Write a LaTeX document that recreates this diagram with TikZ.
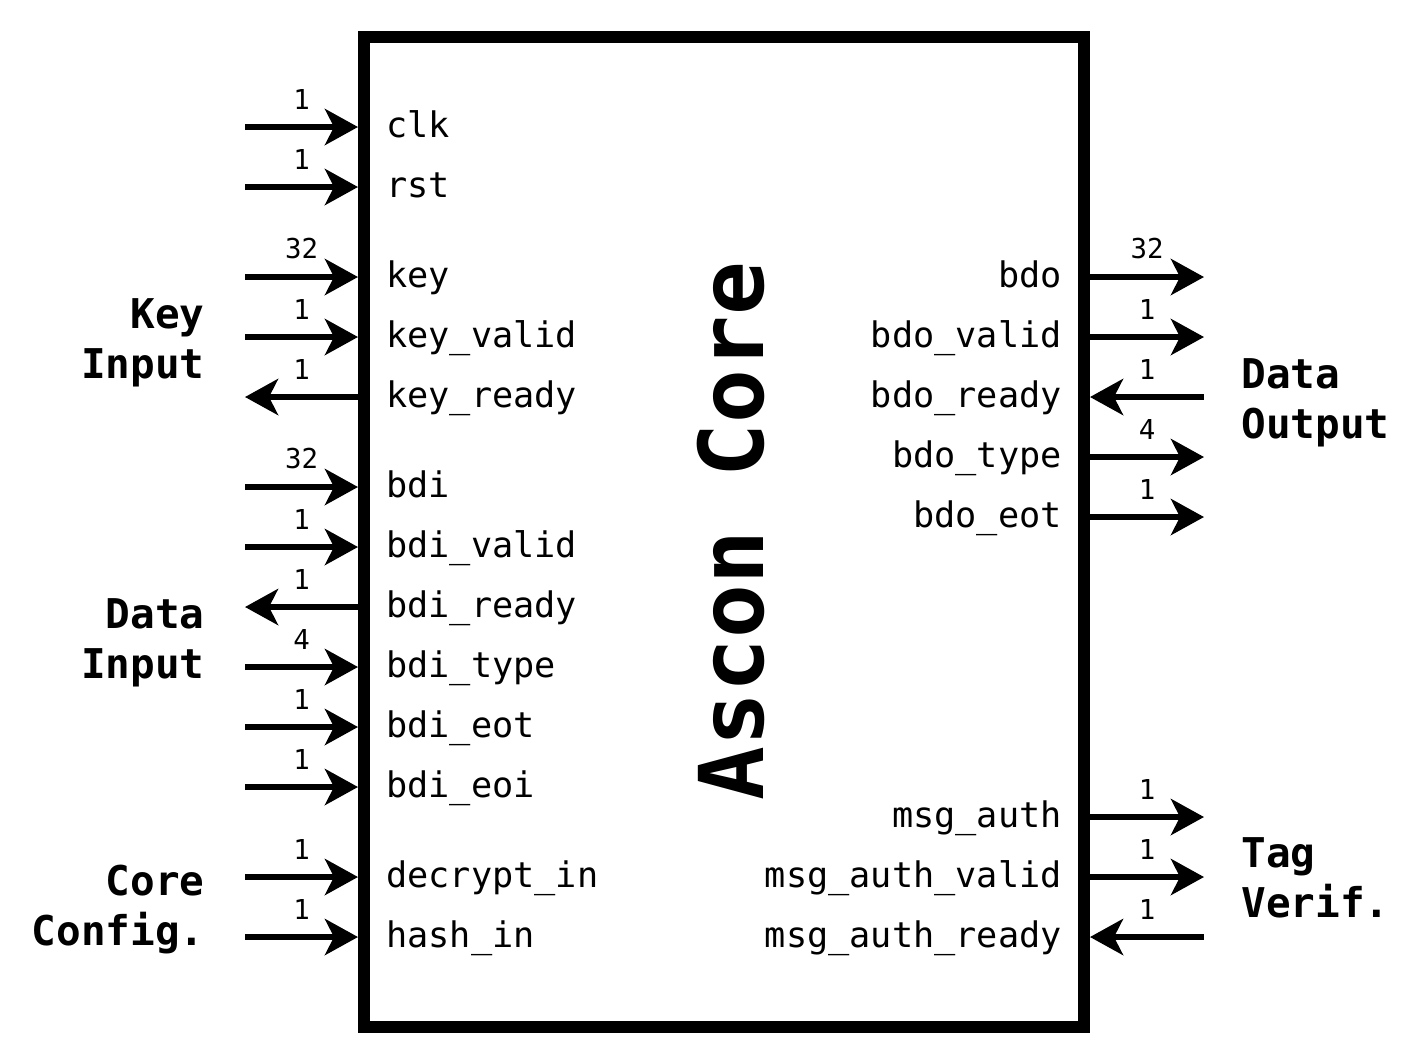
\documentclass[tikz,border=0pt]{standalone}
\usepackage{fontspec}
\setmonofont{DejaVu Sans Mono}
\usetikzlibrary{arrows.meta}

\begin{document}
\begin{tikzpicture}[x=0.5pt,y=-0.5pt,every node/.style={inner sep=0pt},
 >={Stealth[length=16.5pt,width=18pt,inset=4.5pt]},
 wire/.style={line width=3pt},
 port/.style={font=\fontsize{17.6}{20}\selectfont\ttfamily},
 bits/.style={font=\fontsize{13.7}{16}\selectfont\ttfamily,above=7.5pt},
 group/.style={font=\fontsize{20.5}{25}\selectfont\ttfamily\bfseries}]

  \useasboundingbox (0,0) rectangle (1419,1062);

  \node[draw,line width=6pt,outer sep=3pt,minimum width=360pt,
  minimum height=495pt] (core) at (724,532) {};
  \node[rotate=90,anchor=base,font=\fontsize{44.7}{50}\selectfont\ttfamily\bfseries]
   (title) at (763,531) {Ascon Core};

  % left side ports
  \foreach \y/\name/\w/\dir in {127/clk/1/->,187/rst/1/->,277/key/32/->,
   337/key\_valid/1/->,397/key\_ready/1/<-,487/bdi/32/->,547/bdi\_valid/1/->,
   607/bdi\_ready/1/<-,667/bdi\_type/4/->,727/bdi\_eot/1/->,787/bdi\_eoi/1/->,
   877/decrypt\_in/1/->,937/hash\_in/1/->}
  {\coordinate (l\y) at (245,\y);
   \draw[wire,\dir] (l\y) -- (core.west|-l\y) node[midway,bits]{\w};
   \node[port,anchor=base west] (pl\y) at (386,\y+10) {\name};
  }

  % right side ports
  \foreach \y/\name/\w/\dir in {277/bdo/32/->,337/bdo\_valid/1/->,
   397/bdo\_ready/1/<-,457/bdo\_type/4/->,517/bdo\_eot/1/->,
   817/msg\_auth/1/->,877/msg\_auth\_valid/1/->,937/msg\_auth\_ready/1/<-}
  {\coordinate (r\y) at (1204,\y);
   \draw[wire,\dir] (core.east|-r\y) -- (r\y) node[midway,bits]{\w};
   \node[port,anchor=base east] (pr\y) at (1062,\y+10) {\name};
  }

  % group labels (anchored at the baseline of their last line)
  \node[group,align=right,anchor=base east] (keyin) at (205,378) {Key\\Input};
  \node[group,align=right,anchor=base east] (datain) at (205,678) {Data\\Input};
  \node[group,align=right,anchor=base east] (config) at (205,945) {Core\\Config.};
  \node[group,align=left,anchor=base west] (dataout) at (1241,438) {Data\\Output};
  \node[group,align=left,anchor=base west] (tagver) at (1241,917) {Tag\\Verif.};

\end{tikzpicture}
\end{document}
